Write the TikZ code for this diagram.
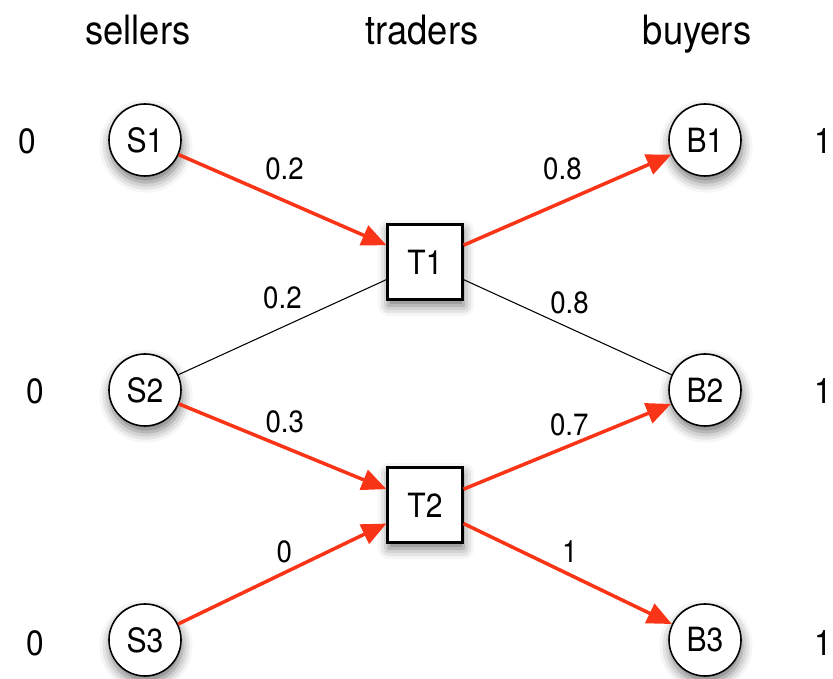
\documentclass[tikz,border=0pt]{standalone}
\usepackage{fontspec}
\setmainfont[FakeStretch=0.9]{TeX Gyre Heros}
\usepackage{tikz}
\usetikzlibrary{arrows.meta, positioning, shadows.blur}

\definecolor{flowred}{RGB}{250,52,22}

\tikzset{
    agent/.style={circle, draw, line width=0.9pt, fill=white, minimum size=1.44cm,
        inner sep=0pt, font=\fontsize{19}{21}\selectfont,
        blur shadow={shadow xshift=0.6pt, shadow yshift=-3.5pt, shadow blur radius=6pt, shadow opacity=55}},
    trader/.style={rectangle, draw, line width=1.2pt, fill=white, minimum size=1.5cm,
        inner sep=0pt, font=\fontsize{19}{21}\selectfont,
        blur shadow={shadow xshift=0.6pt, shadow yshift=-3.5pt, shadow blur radius=6pt, shadow opacity=55}},
    flow/.style={draw=flowred, line width=2pt, -{Triangle[length=14pt,width=12pt]}},
    link/.style={draw, line width=0.6pt},
    lbl/.style={midway, font=\fontsize{17.5}{19}\selectfont},
    side/.style={font=\fontsize{20}{22}\selectfont},
    head/.style={anchor=base, font=\fontsize{23}{25}\selectfont}
}

\begin{document}
\begin{tikzpicture}
    \useasboundingbox (0,0) rectangle (16.66,13.58);

    % column titles
    \node[head] (hs) at (2.76, 12.68) {sellers};
    \node[head] (ht) at (8.44, 12.68) {traders};
    \node[head] (hb) at (13.94, 12.68) {buyers};

    % sellers, traders, buyers
    \node[agent] (S1) at (2.9, 10.78) {S1};
    \node[agent] (S2) at (2.9, 5.78) {S2};
    \node[agent] (S3) at (2.9, 0.78) {S3};
    \node[trader] (T1) at (8.5, 8.34) {T1};
    \node[trader] (T2) at (8.5, 3.48) {T2};
    \node[agent] (B1) at (14.1, 10.78) {B1};
    \node[agent] (B2) at (14.1, 5.78) {B2};
    \node[agent] (B3) at (14.1, 0.78) {B3};

    % values
    \node[side] (v1) at (0.54, 10.76) {0};
    \node[side] (v2) at (0.7, 5.76) {0};
    \node[side] (v3) at (0.7, 0.72) {0};
    \node[side] (w1) at (16.46, 10.76) {1};
    \node[side] (w2) at (16.46, 5.76) {1};
    \node[side] (w3) at (16.46, 0.72) {1};

    % edges and prices
    \path
    (S2) edge[link] node[lbl, yshift=0.58cm] {0.2} (T1)
    (T1) edge[link] node[lbl, yshift=0.48cm, xshift=0.04cm] {0.8} (B2)
    (S1) edge[flow] node[lbl, yshift=0.62cm, xshift=0.04cm] {0.2} (T1)
    (T1) edge[flow] node[lbl, yshift=0.62cm, xshift=-0.1cm] {0.8} (B1)
    (S2) edge[flow] node[lbl, yshift=0.5cm, xshift=0.04cm] {0.3} (T2)
    (T2) edge[flow] node[lbl, yshift=0.44cm, xshift=0.04cm] {0.7} (B2)
    (S3) edge[flow] node[lbl, yshift=0.44cm, xshift=0.04cm] {0} (T2)
    (T2) edge[flow] node[lbl, yshift=0.44cm, xshift=0.04cm] {1} (B3);
\end{tikzpicture}
\end{document}
